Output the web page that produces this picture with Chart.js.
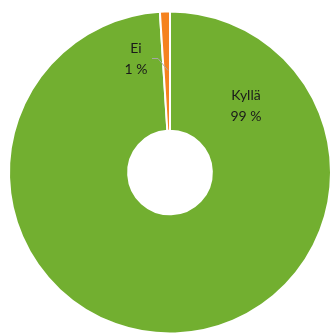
<!DOCTYPE html>
<html>
<head>
<meta charset="utf-8">
<script src="https://cdn.jsdelivr.net/npm/chart.js@4/dist/chart.umd.min.js"></script>
<style>
  html, body { margin: 0; padding: 0; background: #fff; }
  #wrap { width: 332px; height: 336px; position: relative; }
</style>
</head>
<body>
<div id="wrap"><canvas id="chart"></canvas></div>
<script>
// Vastaukset: kyllä / ei
const categories = ['Kyllä', 'Ei'];
const shares = [99, 1];
const sliceColors = ['#72AF30', '#F5821F'];

// Label offsets from the doughnut centre (Excel-style placed data labels)
const labelSpots = [
    { dx: 76, dy: -66 },
    { dx: -34, dy: -113 }
];

const dataLabels = {
    id: 'dataLabels',
    afterDatasetsDraw(chart) {
        const ctx = chart.ctx;
        const arcs = chart.getDatasetMeta(0).data;
        if (!arcs.length) return;
        const cx = arcs[0].x;
        const cy = arcs[0].y;

        ctx.save();
        // leader line for the small slice
        ctx.strokeStyle = '#A6A6A6';
        ctx.lineWidth = 1;
        ctx.beginPath();
        ctx.moveTo(cx - 18, cy - 114);
        ctx.lineTo(cx - 12, cy - 114);
        ctx.lineTo(cx - 2, cy - 102);
        ctx.stroke();

        ctx.fillStyle = '#1a1a1a';
        ctx.font = '14px Lato, "Open Sans", sans-serif';
        ctx.textAlign = 'center';
        ctx.textBaseline = 'middle';
        categories.forEach((name, i) => {
            const p = labelSpots[i];
            ctx.fillText(name, cx + p.dx, cy + p.dy - 11);
            ctx.fillText(shares[i] + ' %', cx + p.dx, cy + p.dy + 10);
        });
        ctx.restore();
    }
};

new Chart(document.getElementById('chart'), {
    type: 'doughnut',
    data: {
        labels: categories,
        datasets: [{
            data: shares,
            backgroundColor: sliceColors,
            borderColor: '#ffffff',
            borderWidth: 2
        }]
    },
    options: {
        responsive: true,
        maintainAspectRatio: false,
        animation: false,
        cutout: '26%',
        layout: {
            padding: { left: 8, right: 0, top: 10, bottom: 1 }
        },
        plugins: {
            legend: { display: false },
            tooltip: { enabled: false }
        }
    },
    plugins: [dataLabels]
});
</script>
</body>
</html>
